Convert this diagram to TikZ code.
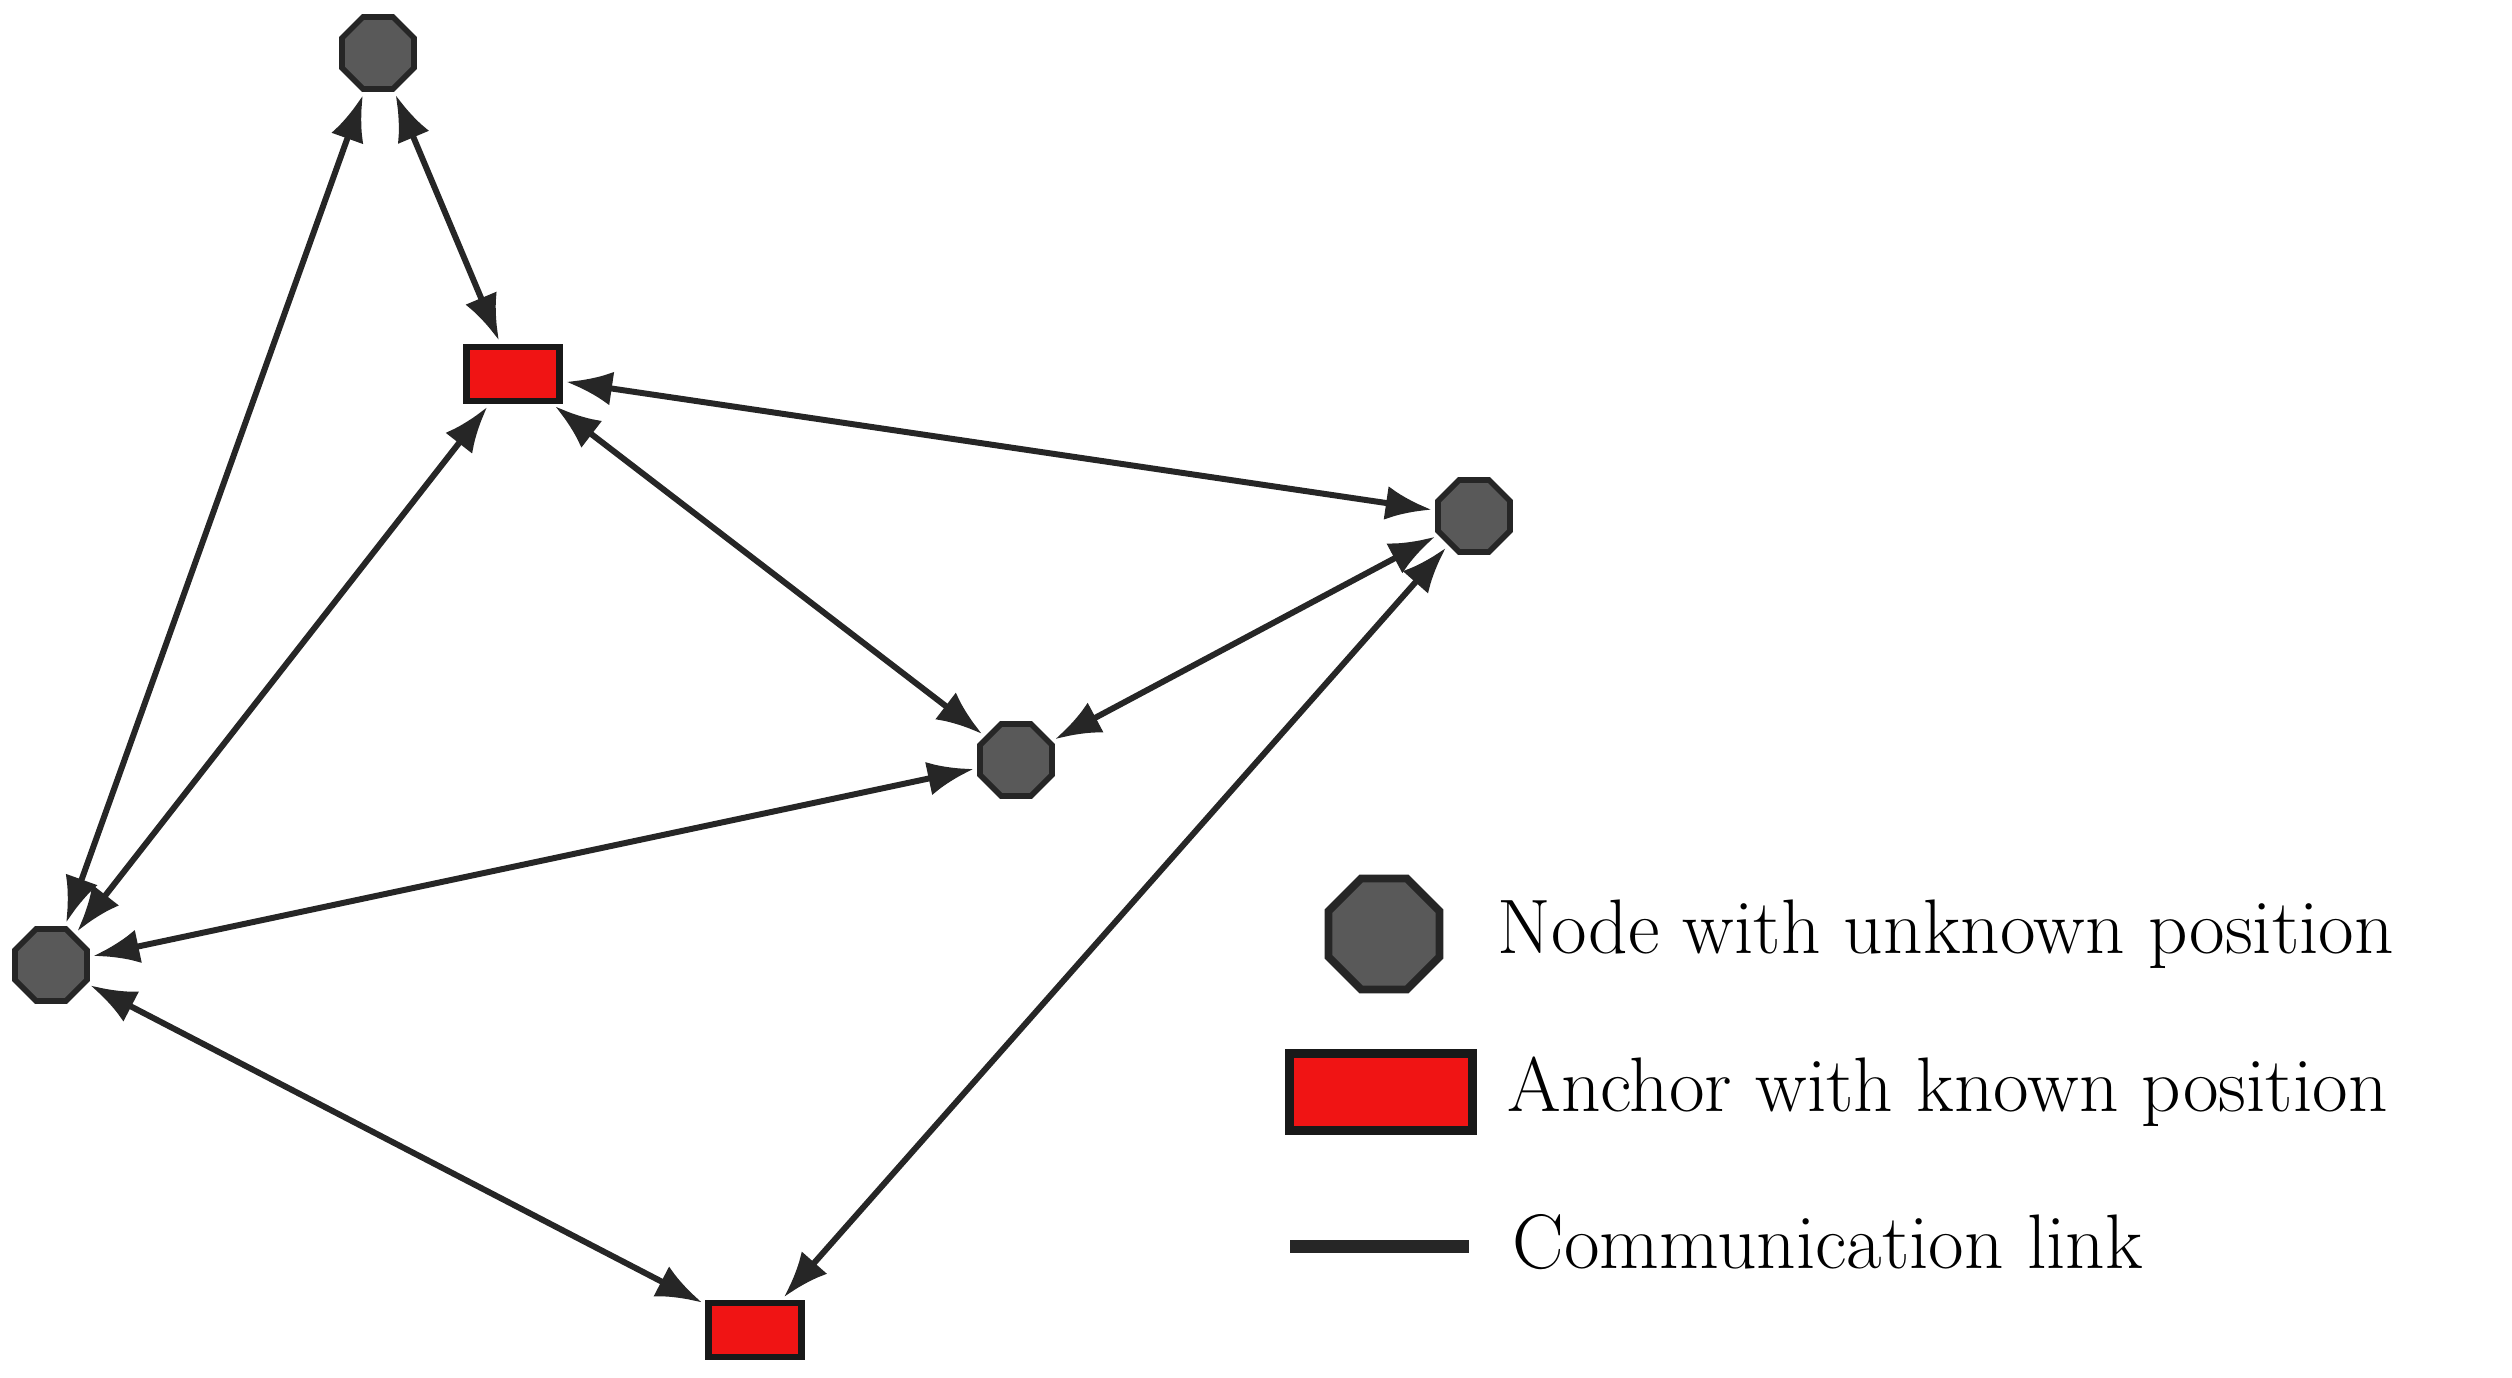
\documentclass[tikz,border=0pt]{standalone}
\usepackage{tikz}
\usetikzlibrary{shapes.geometric,arrows.meta}
\definecolor{ancred}{RGB}{240,20,20}

\begin{document}
\begin{tikzpicture}[
	unknown/.style={draw=black!85,line width=1.6pt,fill=black!65,regular polygon,regular polygon sides=8,minimum size=0.78cm,inner sep=0pt},
	known/.style={draw=black!90,line width=1.8pt,fill=ancred,minimum width=0.93cm,minimum height=0.54cm,inner sep=0pt},
	link/.style={draw=black!85,line width=1.7pt,{Latex[length=0.46cm,width=0.34cm]}-{Latex[length=0.46cm,width=0.34cm]},shorten <=1pt,shorten >=1pt},
	legend/.style={right,font=\fontsize{22}{26}\selectfont}]
	\useasboundingbox (0,0) rectangle (25.12,13.78);
	
	\node[unknown] (top) at (3.78,13.25) {};
	\node[known] (anc1) at (5.13,10.04) {};
	\node[unknown] (right) at (14.74,8.62) {};
	\node[unknown] (mid) at (10.16,6.18) {};
	\node[unknown] (left) at (0.51,4.13) {};
	\node[known] (anc2) at (7.55,0.48) {};
	
	\draw[link] (top) -- (anc1);
	\draw[link] (top) -- (left);
	\draw[link] (anc1) -- (right);
	\draw[link] (anc1) -- (mid);
	\draw[link] (anc1) -- (left);
	\draw[link] (right) -- (mid);
	\draw[link] (right) -- (anc2);
	\draw[link] (mid) -- (left);
	\draw[link] (left) -- (anc2);
	
	% legend
	\node[unknown,minimum size=1.2cm,line width=2.2pt] (leg1) at (13.84,4.44) {};
	\node[known,minimum width=1.83cm,minimum height=0.77cm,line width=2.6pt] (leg2) at (13.81,2.86) {};
	\coordinate (leg3a) at (12.9,1.31);
	\coordinate (leg3b) at (14.69,1.31);
	\draw[black!85,line width=3.7pt] (leg3a) -- (leg3b);
	\node[legend] (txt1) at (14.85,4.44) {Node with unknown position};
	\node[legend] (txt2) at (14.95,2.86) {Anchor with known position};
	\node[legend] (txt3) at (15.0,1.36) {Communication link};
\end{tikzpicture}
\end{document}
